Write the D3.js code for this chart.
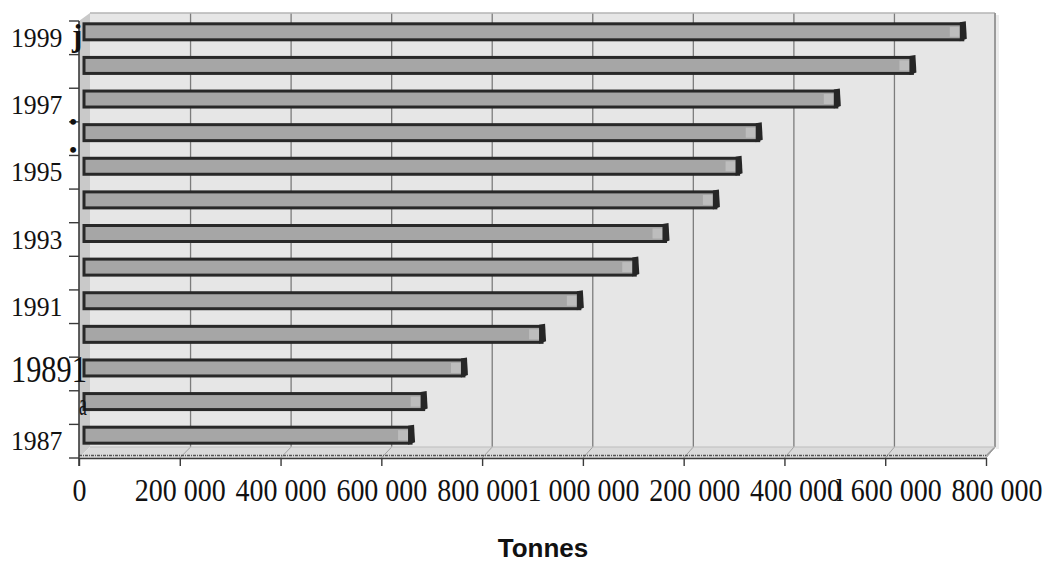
<!DOCTYPE html>
<html>
<head>
<meta charset="utf-8">
<script src="https://cdn.jsdelivr.net/npm/d3@7"></script>
<style>
  body { margin: 0; background: #fff; }
  svg { display: block; }
</style>
</head>
<body>
<svg id="chart" width="1044" height="562"></svg>
<script>
// Annual tonnage, 1987–1999
const years  = [1987, 1988, 1989, 1990, 1991, 1992, 1993, 1994, 1995, 1996, 1997, 1998, 1999];
const tonnes = [655000, 680000, 760000, 915000, 990000, 1100000, 1160000, 1260000, 1305000, 1345000, 1500000, 1650000, 1750000];

// Value axis ticks and the labels printed under them
const xTicks      = [0, 200000, 400000, 600000, 800000, 1000000, 1200000, 1400000, 1600000, 1800000];
const xTickLabels = ["0", "200 000", "400 000", "600 000", "800 000", "1 000 000", "200 000", "400 000", "l 600 000", "800 000"];

// Category axis labels (only some years are labelled)
const yLabelYears = [1999, 1997, 1995, 1993, 1991, 1989, 1988, 1987];
const yLabelTexts = ["1999", "1997", "1995", "1993", "1991", "19891", "a", "1987"];

const axisTitle = "Tonnes";

const W = 1044, H = 562;
const svg = d3.select("#chart");
svg.append("rect").attr("width", W).attr("height", H).attr("fill", "#fff");

const maxT = 1800000;
// front edge of the floor, back wall, and the mid-depth plane the bars sit in
const xFront = d3.scaleLinear().domain([0, maxT]).range([79, 986]);
const xBack  = d3.scaleLinear().domain([0, maxT]).range([90, 995]);
const xBar   = d3.scaleLinear().domain([0, maxT]).range([84, 991]);
const yBand  = d3.scaleBand().domain(years.slice().reverse()).range([21, 458]);
const bw = yBand.bandwidth();

const wallTop = 13, wallBottom = 447;
const frontTop = yBand.range()[0], frontBottom = yBand.range()[1];

// ---- walls and floor ----
svg.append("rect")
  .attr("x", xBack(0)).attr("y", wallTop)
  .attr("width", xBack(maxT) - xBack(0)).attr("height", wallBottom - wallTop)
  .attr("fill", "#e6e6e6");

svg.append("polygon")
  .attr("points", [[xFront(0), frontTop], [xBack(0), wallTop], [xBack(0), wallBottom], [xFront(0), frontBottom]].join(" "))
  .attr("fill", "#c9c9c9");

svg.append("polygon")
  .attr("points", [[xFront(0), frontBottom], [xBack(0), wallBottom], [xBack(maxT), wallBottom], [xFront(maxT), frontBottom]].join(" "))
  .attr("fill", "#dadada");

// gridlines on the back wall
svg.append("g").selectAll("line")
  .data(xTicks.filter(t => t > 0 && t < maxT))
  .join("line")
  .attr("x1", d => xBack(d)).attr("x2", d => xBack(d))
  .attr("y1", wallTop).attr("y2", wallBottom)
  .attr("stroke", "#7c7c7c").attr("stroke-width", 1.3);

// gridline continuation across the floor
svg.append("g").selectAll("line")
  .data(xTicks.filter(t => t > 0))
  .join("line")
  .attr("x1", d => xBack(d)).attr("x2", d => xFront(d))
  .attr("y1", wallBottom).attr("y2", frontBottom)
  .attr("stroke", "#a0a0a0").attr("stroke-width", 1);

// wall borders
svg.append("line")
  .attr("x1", xBack(0)).attr("x2", xBack(maxT))
  .attr("y1", wallTop).attr("y2", wallTop)
  .attr("stroke", "#b4b4b4").attr("stroke-width", 1.5);
svg.append("line")
  .attr("x1", xBack(maxT)).attr("x2", xBack(maxT))
  .attr("y1", wallTop).attr("y2", wallBottom)
  .attr("stroke", "#9a9a9a").attr("stroke-width", 2);
svg.append("line")
  .attr("x1", xBack(maxT) + 2.5).attr("x2", xBack(maxT) + 2.5)
  .attr("y1", wallTop + 2).attr("y2", wallBottom + 2)
  .attr("stroke", "#ececec").attr("stroke-width", 3);
svg.append("line")
  .attr("x1", xBack(maxT)).attr("x2", xFront(maxT))
  .attr("y1", wallBottom).attr("y2", frontBottom - 2)
  .attr("stroke", "#9a9a9a").attr("stroke-width", 1.5);
svg.append("line")
  .attr("x1", xBack(0)).attr("x2", xBack(maxT))
  .attr("y1", wallBottom).attr("y2", wallBottom)
  .attr("stroke", "#bdbdbd").attr("stroke-width", 1);

// ---- bars ----
const barH = 16, barLift = 6;
const rows = years.map((y, i) => ({ year: y, value: tonnes[i] }));
const bars = svg.append("g").selectAll("g").data(rows).join("g");
const barTop = d => yBand(d.year) + bw / 2 - barLift - barH / 2;

bars.append("rect")
  .attr("x", xBar(0))
  .attr("y", barTop)
  .attr("width", d => xBar(d.value) - xBar(0) - 3)
  .attr("height", barH)
  .attr("fill", "#a6a6a6")
  .attr("stroke", "#282828")
  .attr("stroke-width", 3);

// light strip just before the end face
bars.append("rect")
  .attr("x", d => xBar(d.value) - 16)
  .attr("y", d => barTop(d) + 3)
  .attr("width", 10)
  .attr("height", barH - 6)
  .attr("fill", "#bdbdbd");

// dark end face
bars.append("polygon")
  .attr("points", d => {
    const xe = xBar(d.value), t = barTop(d);
    return [[xe - 6, t - 1.5], [xe, t - 2.5], [xe + 1, t + barH - 1], [xe - 6, t + barH + 1.5]].join(" ");
  })
  .attr("fill", "#262626");

// ---- value axis ----
const fmt = d3.formatLocale({ decimal: ",", thousands: " ", grouping: [3], currency: ["", ""] }).format(",");
const xScaleX = 0.875;

const xAxis = svg.append("g")
  .attr("transform", `translate(0,${frontBottom})`)
  .call(d3.axisBottom(xFront).tickValues(xTicks).tickSize(8).tickSizeOuter(0)
        .tickFormat((d, i) => xTickLabels[i]));

xAxis.select(".domain").attr("stroke", "#3a3a3a").attr("stroke-width", 1.6);
xAxis.selectAll(".tick line").attr("stroke", "#3a3a3a").attr("stroke-width", 1.4);

// measure each full formatted value so every label ends where its full number would
const measure = svg.append("text").attr("font-family", "Liberation Serif, Times New Roman, serif").attr("font-size", 32);
xAxis.selectAll(".tick text")
  .attr("font-family", "Liberation Serif, Times New Roman, serif")
  .attr("font-size", 32)
  .attr("fill", "#111")
  .attr("text-anchor", "end")
  .attr("dy", 0)
  .attr("y", 43)
  .attr("transform", `scale(${xScaleX},1)`)
  .attr("x", function(d) {
    measure.text(fmt(d));
    return measure.node().getComputedTextLength() / 2;
  });
measure.remove();

// textured edge along the front of the floor
svg.append("line")
  .attr("x1", xFront(0)).attr("x2", xFront(maxT))
  .attr("y1", frontBottom - 2.5).attr("y2", frontBottom - 2.5)
  .attr("stroke", "#555").attr("stroke-width", 1.5)
  .attr("stroke-dasharray", "3 1 1 1");

// ---- category axis ----
svg.append("line")
  .attr("x1", xFront(0)).attr("x2", xFront(0))
  .attr("y1", frontTop).attr("y2", frontBottom + 8)
  .attr("stroke", "#3a3a3a").attr("stroke-width", 1.6);

const boundaries = years.map(y => yBand(y)).concat([frontBottom]);
svg.append("g").selectAll("line")
  .data(boundaries)
  .join("line")
  .attr("x1", xFront(0) - 10).attr("x2", xFront(0))
  .attr("y1", d => d).attr("y2", d => d)
  .attr("stroke", "#3a3a3a").attr("stroke-width", 1.4);

const yLab = svg.append("g");
yLabelYears.forEach((yr, i) => {
  const txt = yLabelTexts[i];
  const cy = yBand(yr) + bw / 2;
  let fs = 28, sx = 0.92, x0 = 11, base = cy + 9;
  if (txt.length === 5) { fs = 37; sx = 0.82; base = cy + 8; }
  if (txt.length === 1) { fs = 32; sx = 0.55; x0 = xFront(0); base = cy + 7; }
  yLab.append("text")
    .attr("transform", `translate(${x0},${base}) scale(${sx},1)`)
    .attr("font-family", "Liberation Serif, Times New Roman, serif")
    .attr("font-size", fs)
    .attr("fill", "#111")
    .text(txt);
});

// stray marks beside the category axis
yLab.append("text")
  .attr("x", xFront(0) - 7).attr("y", yBand(1999) + bw / 2 + 8)
  .attr("font-family", "Liberation Serif, Times New Roman, serif")
  .attr("font-weight", "bold")
  .attr("font-size", 31)
  .attr("fill", "#111")
  .text("j");

[yBand(1996) + 1.5, yBand(1996) + bw - 4].forEach(cy => {
  yLab.append("text")
    .attr("x", xFront(0) - 6).attr("y", cy + 6)
    .attr("text-anchor", "middle")
    .attr("font-family", "Liberation Serif, Times New Roman, serif")
    .attr("font-weight", "bold")
    .attr("font-size", 22)
    .attr("fill", "#111")
    .text("•");
});

// ---- axis title ----
svg.append("text")
  .attr("x", 543).attr("y", 557)
  .attr("text-anchor", "middle")
  .attr("font-family", "Liberation Sans, Arial, sans-serif")
  .attr("font-weight", "bold")
  .attr("font-size", 26)
  .attr("fill", "#111")
  .text(axisTitle);
</script>
</body>
</html>
